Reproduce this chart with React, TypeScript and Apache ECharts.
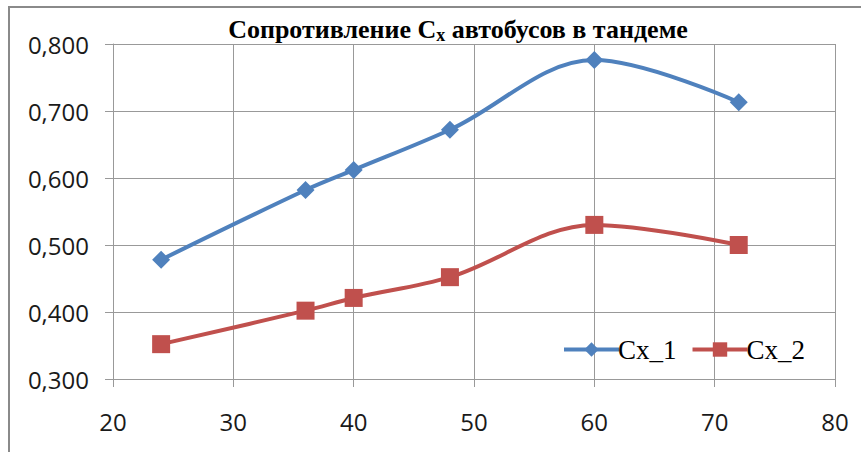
import React, { useEffect, useRef } from "react";
import * as echarts from "echarts";

const xValues = [24, 36, 40, 48, 60, 72];
const cx1 = [0.478, 0.582, 0.612, 0.672, 0.776, 0.713];
const cx2 = [0.352, 0.402, 0.421, 0.452, 0.530, 0.500];
const seriesNames = ["Cx_1", "Cx_2"];
const titleParts = ["Сопротивление C", "x", " автобусов в тандеме"];

export default function App() {
  const ref = useRef<HTMLDivElement>(null);
  useEffect(() => {
    if (!ref.current) return;
    const chart = echarts.init(ref.current, null, { renderer: "svg" });
    const labelFont = "'Open Sans', 'DejaVu Sans', sans-serif";
    const serif = "'Liberation Serif', 'DejaVu Serif', serif";
    chart.setOption({
      animation: false,
      backgroundColor: "#ffffff",
      title: {
        text: `{a|${titleParts[0]}}{s|${titleParts[1]}}{a|${titleParts[2]}}`,
        left: 453,
        textAlign: "center",
        top: 9,
        textStyle: {
          rich: {
            a: { fontFamily: serif, fontWeight: "bold", fontSize: 26, color: "#000" },
            s: { fontFamily: serif, fontWeight: "bold", fontSize: 18, color: "#000", padding: [12, 0, 0, 0] },
          },
        },
      },
      graphic: [
        {
          type: "rect",
          shape: { x: 9, y: 7, width: 900, height: 500 },
          style: { fill: "none", stroke: "#8a8a8a", lineWidth: 2 },
          silent: true,
        },
      ],
      legend: {
        left: 557,
        top: 331,
        itemWidth: 55,
        itemHeight: 18,
        itemGap: 14,
        lineStyle: { width: 4 },
        textStyle: { fontFamily: serif, fontSize: 27, color: "#000", padding: [0, 0, 0, -6] },
        data: seriesNames,
      },
      grid: { left: 113, right: 26, top: 44, bottom: 73 },
      xAxis: {
        type: "value",
        min: 20,
        max: 80,
        interval: 10,
        axisLine: { show: true, onZero: false, lineStyle: { color: "#999", width: 1 } },
        axisTick: { show: true, length: 8, lineStyle: { color: "#999" } },
        splitLine: { show: true, lineStyle: { color: "#999", width: 1 } },
        axisLabel: { fontFamily: labelFont, fontSize: 24, color: "#1a1a1a", margin: 30 },
      },
      yAxis: {
        type: "value",
        min: 0.3,
        max: 0.8,
        interval: 0.1,
        axisLine: { show: true, lineStyle: { color: "#999", width: 1 } },
        axisTick: { show: true, length: 8, lineStyle: { color: "#999" } },
        splitLine: { show: true, lineStyle: { color: "#999", width: 1 } },
        axisLabel: {
          fontFamily: labelFont,
          fontSize: 24,
          color: "#1a1a1a",
          margin: 24,
          formatter: (v: number) => v.toFixed(3).replace(".", ","),
        },
      },
      series: [
        {
          name: seriesNames[0],
          type: "line",
          smooth: 0.35,
          data: xValues.map((x, i) => [x, cx1[i]]),
          symbol: "diamond",
          symbolSize: 18,
          lineStyle: { color: "#4F81BD", width: 4 },
          itemStyle: { color: "#4F81BD" },
        },
        {
          name: seriesNames[1],
          type: "line",
          smooth: 0.35,
          data: xValues.map((x, i) => [x, cx2[i]]),
          symbol: "rect",
          symbolSize: 18,
          lineStyle: { color: "#C0504D", width: 4 },
          itemStyle: { color: "#C0504D" },
        },
      ],
    });
    return () => chart.dispose();
  }, []);
  return (
    <div
      ref={ref}
      style={{ position: "fixed", left: 0, top: 0, width: 861, height: 452 }}
    />
  );
}
